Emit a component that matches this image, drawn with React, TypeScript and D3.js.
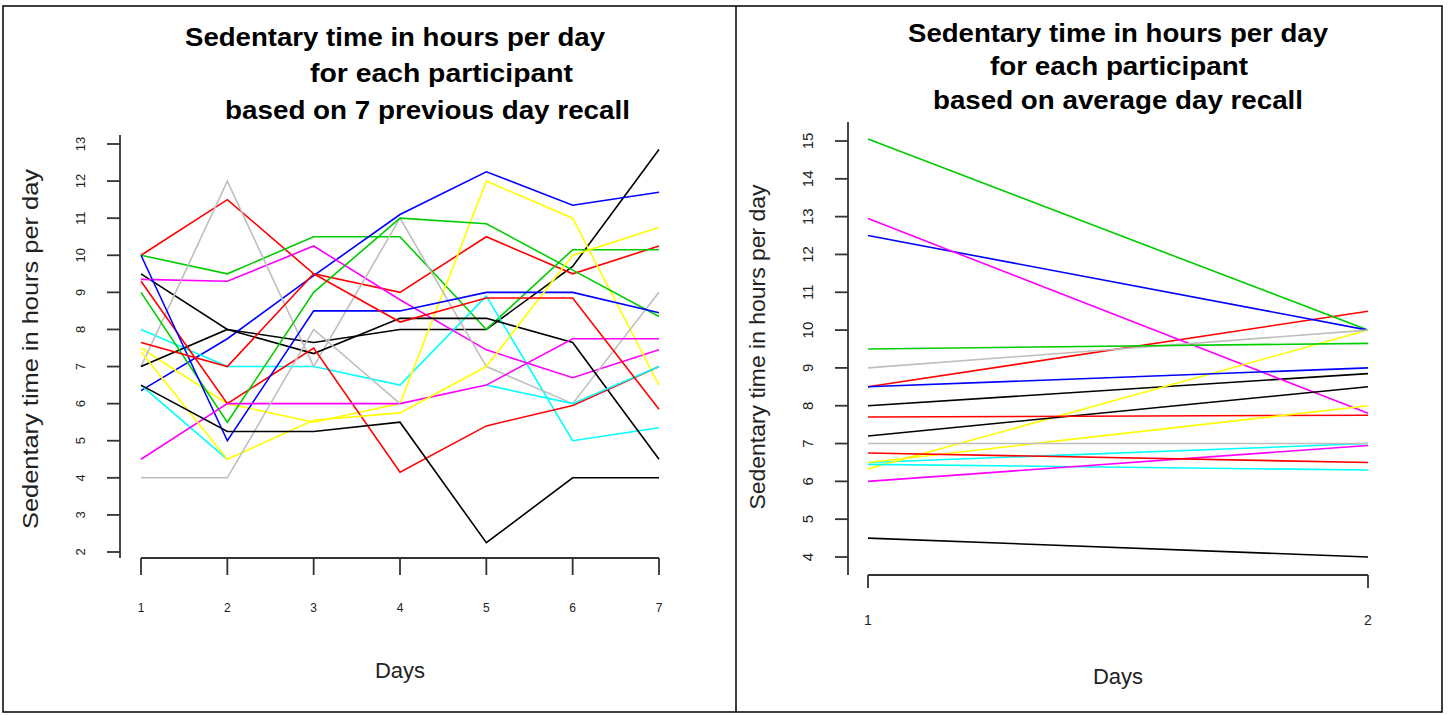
import { useEffect, useRef } from "react";
import * as d3 from "d3";

// R default palette, cycled over participants
const palette = ["#000000", "#FF0000", "#00CD00", "#0000FF", "#00FFFF", "#FF00FF", "#FFFF00", "#BEBEBE"];

const days7 = [1, 2, 3, 4, 5, 6, 7];
const days2 = [1, 2];
const ticks7 = [2, 3, 4, 5, 6, 7, 8, 9, 10, 11, 12, 13];
const ticks2 = [4, 5, 6, 7, 8, 9, 10, 11, 12, 13, 14, 15];

// 7 previous day recall: one row per participant (NaN = missing)
const recall7 = [
    [9.5, 8.0, 7.65, 8.0, 8.0, 9.7, 12.85],
    [10, 11.5, 9.5, 9.0, 10.5, 9.5, 10.25],
    [10, 9.5, 10.5, 10.5, 8.0, 10.15, 10.15],
    [6.35, 7.75, 9.45, 11.1, 12.25, 11.35, 11.7],
    [8.0, 7.0, 7.0, 6.5, 8.9, 5.0, 5.35],
    [9.35, 9.3, 10.25, 8.8, 7.45, 6.7, 7.45],
    [7.5, 6.0, 5.5, 6.0, 12.0, 11.0, 6.5],
    [7.0, 12.0, 7.0, 11.0, 7.0, 6.0, 9.0],
    [7.0, 8.0, 7.35, 8.3, 8.3, 7.65, 4.5],
    [9.3, 6.0, 7.5, 4.15, 5.4, 5.95, 7.0],
    [9.0, 5.5, 9.0, 11.0, 10.85, 9.6, 8.35],
    [10, 5.0, 8.5, 8.5, 9.0, 9.0, 8.45],
    [6.5, 4.5, NaN, NaN, 6.5, 6.0, 7.0],
    [4.5, 6.0, 6.0, 6.0, 6.5, 7.75, 7.75],
    [7.4, 4.5, 5.55, 5.75, 7.0, 10.0, 10.75],
    [4.0, 4.0, 8.0, 6.0, NaN, NaN, NaN],
    [6.5, 5.25, 5.25, 5.5, 2.25, 4.0, 4.0],
    [7.65, 7.0, 9.5, 8.2, 8.85, 8.85, 5.85],
];

// average day recall: day 1 and day 2 per participant
const recallAvg = [
    [8.0, 8.85],
    [8.5, 10.5],
    [15.05, 10.0],
    [12.5, 10.0],
    [6.5, 7.0],
    [12.95, 7.8],
    [6.33, 10.0],
    [9.0, 10.0],
    [7.2, 8.5],
    [7.7, 7.75],
    [9.5, 9.65],
    [8.5, 9.0],
    [6.45, 6.3],
    [6.0, 6.95],
    [6.5, 8.0],
    [7.0, 7.0],
    [4.5, 4.0],
    [6.75, 6.5],
];

const titleLeft = ["Sedentary time in hours per day", "for each participant", "based on 7 previous day recall"];
const titleRight = ["Sedentary time in hours per day", "for each participant", "based on average day recall"];

const FONT = "'Liberation Sans', Arial, sans-serif";

type PanelOpts = {
    days: number[];
    rows: number[][];
    ticks: number[];
    title: string[];
    titlePos: { x: number; y: number; w: number }[];
    x: [number, number];
    y: [number, number];
    yAxisX: number;
    yAxisSpan: [number, number];
    xAxisY: number;
    xTickLen: number;
    yLabelX: number;
    yLabelY: number;
    yLabelLen: number;
    yTickLabelX: number;
    xTickLabelY: number;
    daysY: number;
    tickFont: number;
};

function drawPanel(svg: d3.Selection<SVGSVGElement, unknown, null, undefined>, o: PanelOpts) {
    const g = svg.append("g");
    const x = d3.scaleLinear().domain([o.days[0], o.days[o.days.length - 1]]).range(o.x);
    const y = d3.scaleLinear().domain([o.ticks[0], o.ticks[o.ticks.length - 1]]).range(o.y);

    // title
    o.title.forEach((t, i) => {
        g.append("text")
            .attr("x", o.titlePos[i].x)
            .attr("y", o.titlePos[i].y)
            .attr("textLength", o.titlePos[i].w)
            .attr("lengthAdjust", "spacingAndGlyphs")
            .attr("font-family", FONT)
            .attr("font-weight", "bold")
            .attr("font-size", 25)
            .attr("fill", "#000")
            .text(t);
    });

    // lines
    const line = d3
        .line<number>()
        .defined((d) => !isNaN(d))
        .x((_, i) => x(o.days[i]))
        .y((d) => y(d));

    o.rows.forEach((row, i) => {
        g.append("path")
            .attr("d", line(row) as string)
            .attr("fill", "none")
            .attr("stroke", palette[i % palette.length])
            .attr("stroke-width", 1.6);
    });

    const axisColor = "#333";

    // y axis
    g.append("line")
        .attr("x1", o.yAxisX).attr("x2", o.yAxisX)
        .attr("y1", o.yAxisSpan[0]).attr("y2", o.yAxisSpan[1])
        .attr("stroke", axisColor).attr("stroke-width", 1.8);
    o.ticks.forEach((t) => {
        g.append("line")
            .attr("x1", o.yAxisX - 13).attr("x2", o.yAxisX)
            .attr("y1", y(t)).attr("y2", y(t))
            .attr("stroke", axisColor).attr("stroke-width", 1.8);
        g.append("text")
            .attr("transform", `translate(${o.yTickLabelX},${y(t)}) rotate(-90)`)
            .attr("text-anchor", "middle")
            .attr("dy", "0.35em")
            .attr("font-family", FONT)
            .attr("font-size", o.tickFont)
            .attr("fill", "#222")
            .text(t);
    });

    // x axis
    g.append("line")
        .attr("x1", o.x[0]).attr("x2", o.x[1])
        .attr("y1", o.xAxisY).attr("y2", o.xAxisY)
        .attr("stroke", axisColor).attr("stroke-width", 1.8);
    o.days.forEach((d) => {
        g.append("line")
            .attr("x1", x(d)).attr("x2", x(d))
            .attr("y1", o.xAxisY).attr("y2", o.xAxisY + o.xTickLen)
            .attr("stroke", axisColor).attr("stroke-width", 1.8);
        g.append("text")
            .attr("x", x(d))
            .attr("y", o.xTickLabelY)
            .attr("text-anchor", "middle")
            .attr("dy", "0.35em")
            .attr("font-family", FONT)
            .attr("font-size", o.tickFont - 1)
            .attr("fill", "#222")
            .text(d);
    });

    // axis titles
    g.append("text")
        .attr("transform", `translate(${o.yLabelX},${o.yLabelY}) rotate(-90)`)
        .attr("text-anchor", "middle")
        .attr("dy", "0.35em")
        .attr("font-family", FONT)
        .attr("font-size", 22)
        .attr("textLength", o.yLabelLen)
        .attr("lengthAdjust", "spacingAndGlyphs")
        .attr("fill", "#222")
        .text("Sedentary time in hours per day");

    g.append("text")
        .attr("x", (o.x[0] + o.x[1]) / 2)
        .attr("y", o.daysY)
        .attr("text-anchor", "middle")
        .attr("dy", "0.35em")
        .attr("font-family", FONT)
        .attr("font-size", 22)
        .attr("fill", "#222")
        .text("Days");
}

export default function App() {
    const svgRef = useRef<SVGSVGElement | null>(null);

    useEffect(() => {
        if (!svgRef.current) return;
        document.body.style.margin = "0";
        const svg = d3.select(svgRef.current);
        svg.selectAll("*").remove();

        svg.append("rect").attr("width", 1448).attr("height", 715).attr("fill", "#fff");

        // frame and divider
        svg.append("rect")
            .attr("x", 3).attr("y", 6).attr("width", 1439).attr("height", 706)
            .attr("fill", "none").attr("stroke", "#000").attr("stroke-width", 1.5);
        svg.append("line")
            .attr("x1", 736).attr("x2", 736).attr("y1", 6).attr("y2", 712)
            .attr("stroke", "#000").attr("stroke-width", 1.5);

        drawPanel(svg, {
            days: days7,
            rows: recall7,
            ticks: ticks7,
            title: titleLeft,
            titlePos: [
                { x: 185, y: 46, w: 420 },
                { x: 310, y: 82, w: 263 },
                { x: 225, y: 119, w: 405 },
            ],
            x: [141, 659],
            y: [552, 144],
            yAxisX: 120,
            yAxisSpan: [135, 558],
            xAxisY: 558,
            xTickLen: 17,
            yLabelX: 30,
            yLabelY: 349,
            yLabelLen: 360,
            yTickLabelX: 80,
            xTickLabelY: 608,
            daysY: 670,
            tickFont: 13,
        });

        drawPanel(svg, {
            days: days2,
            rows: recallAvg,
            ticks: ticks2,
            title: titleRight,
            titlePos: [
                { x: 908, y: 42, w: 420 },
                { x: 990, y: 75, w: 258 },
                { x: 933, y: 109, w: 370 },
            ],
            x: [868, 1368],
            y: [557, 141],
            yAxisX: 848,
            yAxisSpan: [122, 575],
            xAxisY: 575,
            xTickLen: 13,
            yLabelX: 757,
            yLabelY: 347,
            yLabelLen: 325,
            yTickLabelX: 808,
            xTickLabelY: 620,
            daysY: 676,
            tickFont: 15,
        });
    }, []);

    return <svg ref={svgRef} width={1448} height={715} style={{ display: "block" }} />;
}
